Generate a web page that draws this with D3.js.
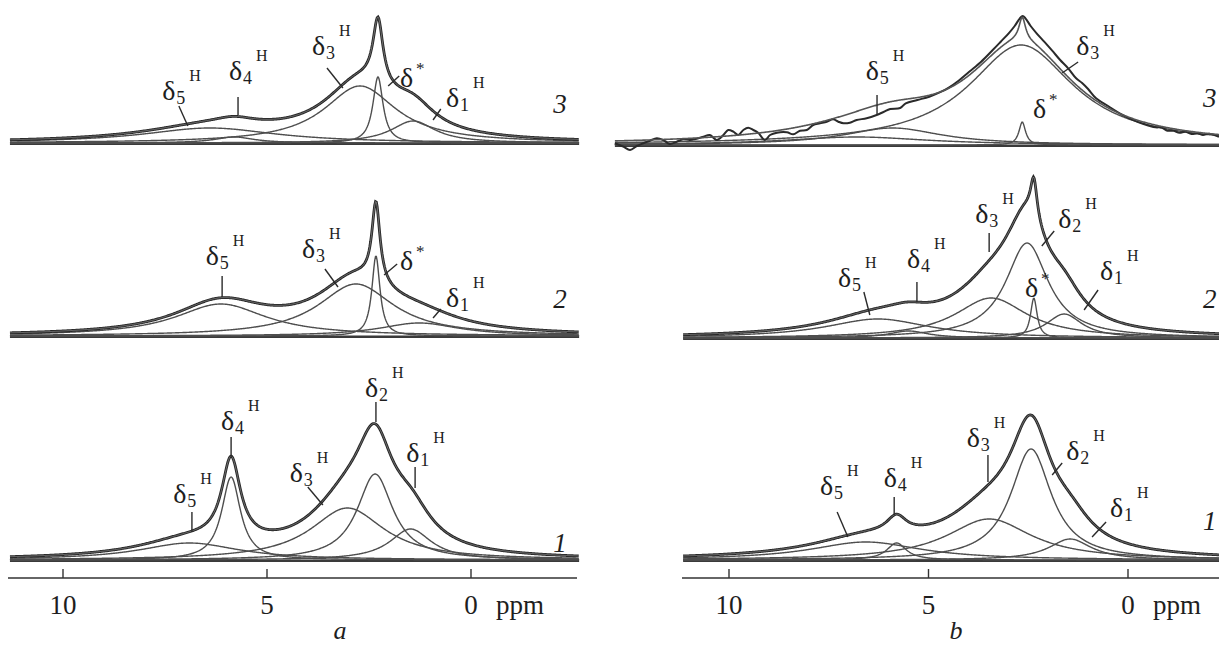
<!DOCTYPE html>
<html>
<head>
<meta charset="utf-8">
<script src="https://cdn.jsdelivr.net/npm/d3@7"></script>
<style>
  body { margin: 0; background: #fff; }
  svg text { font-family: "Liberation Serif", "Times New Roman", serif; fill: #1e1e1e; }
</style>
</head>
<body>
<svg id="chart" width="1219" height="648"></svg>
<script>
// peak tables: centre (ppm), height, half width (ppm)
const a1Center = [6.9, 5.88, 3.03, 2.35, 1.48];
const a1Height = [17, 83, 52, 86, 31];
const a1Width  = [1.5, 0.28, 1.1, 0.53, 0.62];

const a2Center = [6.13, 2.82, 2.33, 1.27];
const a2Height = [32, 52, 80, 13];
const a2Width  = [1.36, 1.13, 0.12, 1.2];

const a3Center = [6.4, 5.8, 2.72, 2.28, 1.42];
const a3Height = [15, 6, 57, 66, 22];
const a3Width  = [2.0, 0.6, 1.08, 0.15, 0.66];

const b1Center = [6.57, 5.8, 3.48, 2.43, 1.45];
const b1Height = [18, 17, 41, 111, 21];
const b1Width  = [1.7, 0.3, 1.3, 0.62, 0.65];

const b2Center = [6.27, 5.5, 3.43, 2.53, 2.36, 1.6];
const b2Height = [19, 7, 40, 95, 40, 24];
const b2Width  = [1.6, 0.6, 1.1, 0.65, 0.1, 0.55];

const b3Center = [5.9, 6.8, 2.68, 2.65];
const b3Height = [17, 8, 100, 23];
const b3Width  = [1.5, 2.2, 1.6, 0.1];

// noisy experimental trace of b3 (ppm, intensity)
const b3TracePpm = [12.86, 12.65, 12.48, 12.31, 12.15, 11.98, 11.81, 11.65, 11.48, 11.31, 11.15, 10.98, 10.81, 10.64,
  10.48, 10.31, 10.14, 10.02, 9.89, 9.77, 9.64, 9.52, 9.39, 9.27, 9.10, 8.97, 8.80, 8.55, 8.39, 8.22, 8.05, 7.89,
  7.72, 7.55, 7.39, 7.26, 7.13, 6.97, 6.80, 6.55, 6.30, 6.13, 5.96, 5.71, 5.57, 5.28, 4.98, 4.68, 4.48, 4.28, 3.98,
  3.68, 3.39, 3.19, 2.99, 2.84, 2.71, 2.64, 2.57, 2.44, 2.29, 2.10, 1.90, 1.70, 1.50, 1.30, 1.15, 1.00, 0.80, 0.50,
  0.21, -0.09, -0.39, -0.69, -0.84, -0.99, -1.14, -1.29, -1.44, -1.59, -1.74, -1.88, -2.03, -2.28];
const b3TraceVal = [1.7, -1.7, -5, -1, 1.7, 4.3, 6.7, 5, 1, 3.3, 5.7, 5, 6.3, 8.3,
  10, 5, 10, 15, 13.3, 10, 15, 17.3, 15, 12.3, 5, 10, 12.3, 12.7, 10.7, 14.3, 15, 20,
  21.7, 23.3, 25.7, 23.3, 21.7, 22.3, 25, 26.7, 30, 33, 36, 37, 41.7, 45, 48.3, 53.3, 57.7, 63.3, 73.3,
  83.3, 95, 103.3, 111.7, 119, 126.7, 129, 126.7, 119, 111.7, 103.3, 94.3, 85, 76.7, 66.7, 62, 56, 46.7, 39,
  31.7, 25.7, 21, 17.7, 17.5, 14.3, 14.2, 12.3, 13.3, 11, 11.6, 10, 11.3, 8.3];

// peak labels: subscript, text position (ppm, intensity), leader (ppm, int, ppm, int)
const a3Labels = [["5", 7.57, 43, [7.16, 37, 6.94, 17]], ["4", 5.93, 63, [5.71, 46, 5.71, 28]],
  ["3", 3.90, 88, [3.53, 75, 3.14, 55]], ["*", 1.74, 56, [1.76, 67, 2.03, 57]], ["1", 0.61, 36, [0.74, 34, 0.93, 23]]];
const a2Labels = [["5", 6.50, 71, [6.10, 60, 6.10, 39]], ["3", 4.14, 78, [3.58, 67, 3.26, 49]],
  ["*", 1.74, 66, [1.81, 72, 2.13, 61]], ["1", 0.61, 29, [0.74, 27, 0.93, 18]]];
const a1Labels = [["5", 7.30, 57, [6.84, 48, 6.84, 28]], ["4", 6.13, 130, [5.88, 123, 5.88, 103]],
  ["3", 4.44, 78, [4.0, 73, 3.63, 55]], ["2", 2.60, 163, [2.33, 158, 2.33, 138]], ["1", 1.59, 98, [1.37, 93, 1.37, 72]]];
const b3Labels = [["5", 6.57, 65, [6.29, 50, 6.29, 30]], ["3", 1.30, 90, [1.25, 83, 1.65, 72]], ["*", 2.38, 27, null]];
const b2Labels = [["5", 7.27, 51, [6.62, 46, 6.47, 23]], ["4", 5.54, 70, [5.29, 56, 5.29, 36]],
  ["3", 3.83, 115, [3.48, 105, 3.48, 86]], ["2", 1.75, 110, [1.85, 107, 2.16, 92]], ["*", 2.58, 41, null],
  ["1", 0.70, 58, [0.75, 48, 1.10, 28]]];
const b1Labels = [["5", 7.72, 65, [7.29, 48, 7.02, 23]], ["4", 6.12, 73, [5.86, 63, 5.86, 45]],
  ["3", 4.04, 113, [3.51, 105, 3.51, 78]], ["2", 1.55, 100, [1.65, 97, 1.90, 85]], ["1", 0.45, 43, [0.55, 38, 0.90, 23]]];

const tickValues = [10, 5, 0];
const panelNames = ["a", "b"];

const svg = d3.select("#chart");
const xA = d3.scaleLinear().domain([10, 0]).range([63, 471]);
const xB = d3.scaleLinear().domain([10, 0]).range([729, 1128]);

function lorentz(p, c, h, w) {
  const d = (p - c) / w;
  return h / (1 + d * d);
}

const spectra = [
  { x: xA, base: 143, from: 11.3, to: -2.65, center: a3Center, height: a3Height, width: a3Width, labels: a3Labels, num: ["3", -2.18, 30] },
  { x: xA, base: 336, from: 11.3, to: -2.65, center: a2Center, height: a2Height, width: a2Width, labels: a2Labels, num: ["2", -2.18, 28] },
  { x: xA, base: 560, from: 11.3, to: -2.65, center: a1Center, height: a1Height, width: a1Width, labels: a1Labels, num: ["1", -2.18, 8] },
  { x: xB, base: 145, from: 12.86, to: -2.4, center: b3Center, height: b3Height, width: b3Width, labels: b3Labels, num: ["3", -2.05, 38],
    trace: d3.zip(b3TracePpm, b3TraceVal) },
  { x: xB, base: 338, from: 11.15, to: -2.4, center: b2Center, height: b2Height, width: b2Width, labels: b2Labels, num: ["2", -2.05, 30] },
  { x: xB, base: 560, from: 11.15, to: -2.4, center: b1Center, height: b1Height, width: b1Width, labels: b1Labels, num: ["1", -2.05, 30] }
];

function drawSpectrum(s) {
  const x = s.x;
  const y = d3.scaleLinear().domain([0, 100]).range([s.base, s.base - 100]);
  const grid = d3.range(s.from, s.to, -0.02);
  const line = d3.line().x(d => x(d[0])).y(d => y(d[1]));
  const g = svg.append("g");

  g.append("line")
    .attr("x1", x(s.from)).attr("x2", x(s.to))
    .attr("y1", y(0) + 0.5).attr("y2", y(0) + 0.5)
    .attr("stroke", "#3a3a3a").attr("stroke-width", 3);
  g.append("line")
    .attr("x1", x(s.from) + 20).attr("x2", x(s.to))
    .attr("y1", y(0) - 0.5).attr("y2", y(0) - 0.5)
    .attr("stroke", "#9a9a9a").attr("stroke-width", 1);

  s.center.forEach((c, i) => {
    const pts = grid.map(p => [p, lorentz(p, c, s.height[i], s.width[i])]);
    g.append("path").attr("d", line(pts))
      .attr("fill", "none").attr("stroke", "#4e4e4e").attr("stroke-width", 1.4);
  });

  const sum = grid.map(p => [p, d3.sum(s.center, (c, i) => lorentz(p, c, s.height[i], s.width[i]))]);
  if (s.trace) {
    g.append("path").attr("d", line.curve(d3.curveCatmullRom)(s.trace))
      .attr("fill", "none").attr("stroke", "#2a2a2a").attr("stroke-width", 2);
    line.curve(d3.curveLinear);
    g.append("path").attr("d", line(sum))
      .attr("fill", "none").attr("stroke", "#555").attr("stroke-width", 1.6);
  } else {
    g.append("path").attr("d", line(sum))
      .attr("fill", "none").attr("stroke", "#262626").attr("stroke-width", 2.8);
    g.append("path").attr("d", line(sum))
      .attr("fill", "none").attr("stroke", "#8c8c8c").attr("stroke-width", 0.7);
  }

  s.labels.forEach(l => {
    const tx = x(l[1]), ty = y(l[2]);
    g.append("text").attr("x", tx).attr("y", ty).attr("font-size", 28).text("δ");
    if (l[0] === "*") {
      g.append("text").attr("x", tx + 16).attr("y", ty - 13).attr("font-size", 17).text("*");
    } else {
      g.append("text").attr("x", tx + 14).attr("y", ty + 4).attr("font-size", 18).text(l[0]);
      g.append("text").attr("x", tx + 27).attr("y", ty - 19).attr("font-size", 16).text("H");
    }
    if (l[3]) {
      const k = l[3];
      g.append("line")
        .attr("x1", x(k[0])).attr("y1", y(k[1]))
        .attr("x2", x(k[2])).attr("y2", y(k[3]))
        .attr("stroke", "#2a2a2a").attr("stroke-width", 1.4);
    }
  });

  g.append("text")
    .attr("x", x(s.num[1])).attr("y", y(s.num[2]))
    .attr("text-anchor", "middle").attr("font-size", 27).attr("font-style", "italic")
    .text(s.num[0]);
}

spectra.forEach(drawSpectrum);

// ppm axes
[xA, xB].forEach((x, i) => {
  const left = i === 0 ? 8 : 682;
  const right = i === 0 ? 577 : 1219;
  const g = svg.append("g").attr("transform", "translate(0,578)");
  g.append("line").attr("x1", left).attr("x2", right).attr("y1", 0).attr("y2", 0)
    .attr("stroke", "#333").attr("stroke-width", 1.6);
  g.selectAll("line.tick").data(tickValues).enter().append("line")
    .attr("class", "tick")
    .attr("x1", d => x(d)).attr("x2", d => x(d))
    .attr("y1", 0).attr("y2", -9)
    .attr("stroke", "#333").attr("stroke-width", 1.4);
  g.selectAll("text.tl").data(tickValues).enter().append("text")
    .attr("class", "tl")
    .attr("x", d => x(d)).attr("y", 36)
    .attr("text-anchor", "middle").attr("font-size", 27)
    .text(d => d);
  g.append("text").attr("x", x(0) + 25).attr("y", 36).attr("font-size", 27).text("ppm");
  g.append("text").attr("x", i === 0 ? 340 : 956).attr("y", 61)
    .attr("text-anchor", "middle").attr("font-size", 26).attr("font-style", "italic")
    .text(panelNames[i]);
});
</script>
</body>
</html>
